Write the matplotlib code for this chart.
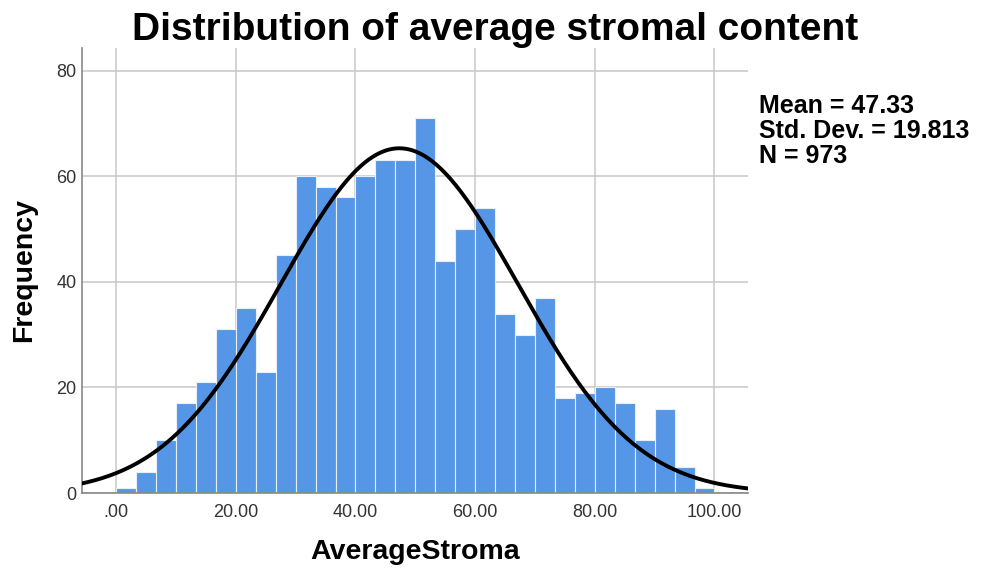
import numpy as np
import matplotlib
matplotlib.use("Agg")
import matplotlib.pyplot as plt

plt.rcParams["font.family"] = ["Liberation Sans", "DejaVu Sans"]

# histogram bins (width 100/30) and counts
bin_edges = np.linspace(0, 100, 31)
counts = [1, 4, 10, 17, 21, 31, 35, 23, 45, 60,
          58, 56, 60, 63, 63, 71, 44, 50, 54, 34,
          30, 37, 18, 19, 20, 17, 10, 16, 5, 1]
mean = 47.33
std = 19.813
n = 973
xticks = [0, 20, 40, 60, 80, 100]
xtick_labels = [".00", "20.00", "40.00", "60.00", "80.00", "100.00"]
yticks = [0, 20, 40, 60, 80]
stats_lines = ["Mean = 47.33", "Std. Dev. = 19.813", "N = 973"]

W, H = 985, 572
fig = plt.figure(figsize=(W / 100, H / 100), dpi=100)
ax = fig.add_axes([82 / W, 1 - 493 / H, 666 / W, 445 / H])

width = bin_edges[1] - bin_edges[0]
ax.bar(bin_edges[:-1], counts, width=width, align="edge",
       color="#5596e6", edgecolor="#e8effa", linewidth=0.8, zorder=2)

# fitted normal curve
xs = np.linspace(-5.7, 105.6, 400)
ys = n * width * np.exp(-0.5 * ((xs - mean) / std) ** 2) / (std * np.sqrt(2 * np.pi))
ax.plot(xs, ys, color="black", linewidth=2.8, zorder=3)

ax.set_xlim(-5.7, 105.6)
ax.set_ylim(0, 84.3)
ax.set_xticks(xticks)
ax.set_xticklabels(xtick_labels)
ax.set_yticks(yticks)
ax.grid(True, color="#c8c8c8", linewidth=1.1, zorder=0)
ax.set_axisbelow(True)
ax.tick_params(length=0, labelsize=13, labelcolor="#333333")
ax.tick_params(axis="x", pad=8)
ax.tick_params(axis="y", pad=4)

for side in ["top", "right"]:
    ax.spines[side].set_visible(False)
for side in ["left", "bottom"]:
    ax.spines[side].set_color("#888888")
    ax.spines[side].set_linewidth(1.2)

ax.set_xlabel("AverageStroma", fontsize=20.5, fontweight="bold", labelpad=13)
ax.set_ylabel("Frequency", fontsize=20.5, fontweight="bold")
ax.yaxis.set_label_coords(-0.0856 + 0.018, 0.5)

fig.text(495 / W, 1 - 40 / H, "Distribution of average stromal content",
         fontsize=28, fontweight="bold", ha="center", va="baseline")

for i, line in enumerate(stats_lines):
    fig.text(759 / W, 1 - (113 + 25 * i) / H, line,
             fontsize=18, fontweight="bold", ha="left", va="baseline")

fig.savefig("out.png", dpi=100)
